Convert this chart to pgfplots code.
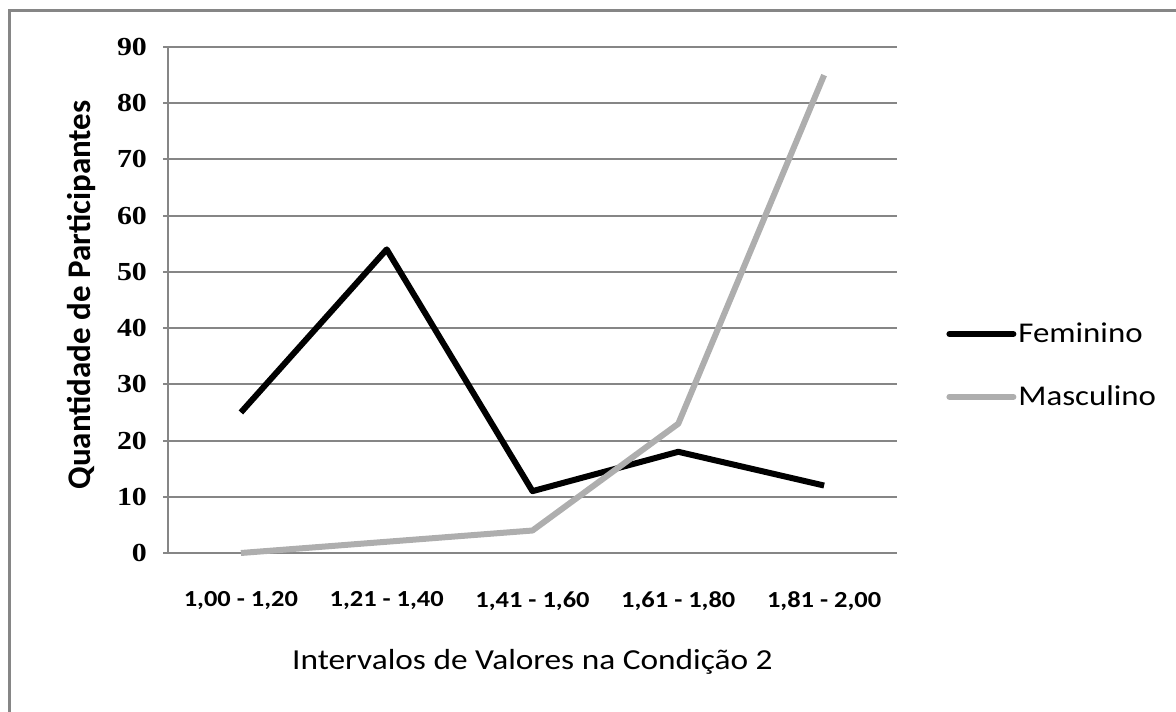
\documentclass[border=0pt]{standalone}
\usepackage{pgfplots}
\pgfplotsset{compat=1.18}
\usepackage{fontspec}
\setmainfont{Carlito}
\newfontfamily\tickfont[FakeStretch=1.15]{Liberation Serif}
\newfontfamily\widefont[FakeStretch=1.15]{Carlito}

\definecolor{gridgray}{HTML}{868686}
\definecolor{masc}{HTML}{AEAEAE}

\begin{document}
\begin{tikzpicture}
% canvas: 1 px of the reference = 0.5pt
\useasboundingbox (0,0) rectangle (588pt,355.5pt);
\draw[gridgray, line width=1.5pt] (4.5pt,-5pt) -- (4.5pt,350pt) -- (600pt,350pt);

\begin{axis}[
    at={(84pt,79pt)}, anchor=south west,
    scale only axis,
    width=364.5pt, height=253pt,
    xmin=-0.5, xmax=4.5,
    ymin=0, ymax=90,
    ytick={0,10,...,90},
    xtick={0,1,2,3,4},
    xticklabels={{1,00 - 1,20},{1,21 - 1,40},{1,41 - 1,60},{1,61 - 1,80},{1,81 - 2,00}},
    xtick style={draw=none},
    extra x ticks={-0.5,0.5,1.5,2.5,3.5,4.5},
    extra x tick labels={},
    extra x tick style={grid=none, tick style={draw=gridgray, line width=1pt}},
    tick align=outside,
    major tick length=5pt,
    ytick style={draw=gridgray, line width=1pt},
    axis x line=bottom, axis y line=left,
    axis line style={-, gridgray, line width=1pt},
    ymajorgrids,
    grid style={gridgray, line width=1pt},
    /pgf/number format/assume math mode=true,
    yticklabel style={font=\tickfont\bfseries\fontsize{13}{15}\selectfont, anchor=east, xshift=-4.5pt},
    xticklabel style={font=\widefont\bfseries\fontsize{11.5}{14}\selectfont, anchor=center, yshift=-21.5pt},
    xlabel={Intervalos de Valores na Condição 2},
    xlabel style={font=\widefont\fontsize{14.5}{17}\selectfont, at={(axis description cs:0.5,-0.2154)}, anchor=center},
    ylabel={Quantidade de Participantes},
    ylabel style={font=\bfseries\fontsize{16.5}{19}\selectfont, at={(axis description cs:-0.118,0.51)}, anchor=center},
    legend style={at={(axis description cs:1,0.3706)}, anchor=west, xshift=24.5pt,
        draw=none, fill=none, inner sep=0pt,
        font=\widefont\fontsize{14.3}{17}\selectfont,
        nodes={inner sep=1pt}, row sep=18pt},
    legend cell align=left,
    legend image code/.code={\draw[#1, line cap=round] (0pt,0pt) -- (32pt,0pt);},
    clip=false,
]
\addplot[black, line width=3pt, line join=round] coordinates {(0,25) (1,54) (2,11) (3,18) (4,12)};
\addlegendentry{Feminino}
\addplot[masc, line width=3pt, line join=round] coordinates {(0,0) (1,2) (2,4) (3,23) (4,85)};
\addlegendentry{Masculino}
\end{axis}
\end{tikzpicture}
\end{document}
